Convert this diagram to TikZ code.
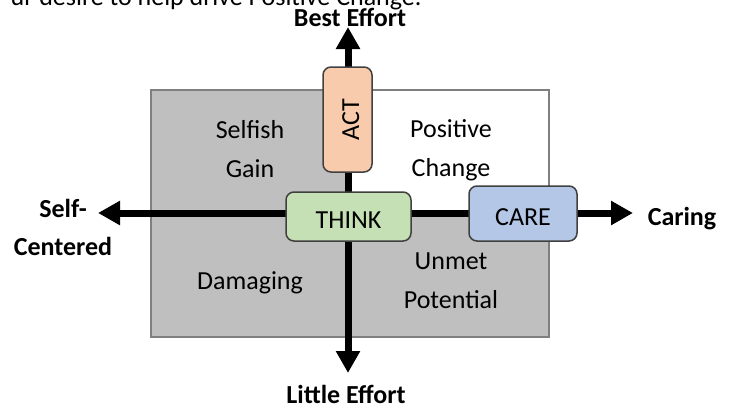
\documentclass[tikz,border=0pt]{standalone}
\usepackage{fontspec}
\setmainfont{Carlito}
\usetikzlibrary{arrows.meta, positioning, calc}
\definecolor{actfill}{HTML}{F8CBAD}
\definecolor{thinkfill}{HTML}{C5E0B4}
\definecolor{carefill}{HTML}{B4C7E7}
\definecolor{quadgray}{HTML}{BFBFBF}
\definecolor{quadline}{HTML}{7F7F7F}
\definecolor{boxline}{HTML}{404040}

\begin{document}
\begin{tikzpicture}[x=1pt, y=-1pt,
    every node/.style={font=\fontsize{26}{39}\selectfont},
    tag/.style={rectangle, draw=boxline, line width=1.5pt, rounded corners=8pt, text height=23pt, text depth=0pt, inner sep=0pt},
    axis/.style={line width=7pt, {Triangle[length=22pt, width=23pt]}-{Triangle[length=22pt, width=23pt]}},
    quad/.style={align=center},
    pole/.style={font=\fontsize{26}{38}\selectfont\bfseries, align=center}
]
\useasboundingbox (0,0) rectangle (734,407);

% Quadrant frame
\coordinate (nw) at (151,90);
\coordinate (se) at (549,337);
\coordinate (origin) at (348,213);
\fill[quadgray] (nw) rectangle (se);
\fill[white] (origin |- nw) rectangle (se |- origin); % only the upper right stays white
\draw[quadline, line width=2pt] (nw) rectangle (se);

% Axes
\coordinate (top) at (348,27);
\coordinate (bottom) at (348,373);
\coordinate (left) at (98,213);
\coordinate (right) at (633,213);
\draw[axis] (left) -- (right);
\draw[axis] (bottom) -- (top);

% Boxes on the axes
\node[tag, fill=actfill, rotate=90, minimum width=105pt, minimum height=49pt] (act) at (347.5,119.5) {ACT};
\node[tag, fill=thinkfill, minimum width=125pt, minimum height=49pt] (think) at (348.5,216.5) {THINK};
\node[tag, fill=carefill, minimum width=108pt, minimum height=55pt] (care) at (523,213.5) {CARE};

% Quadrant labels
\node[quad] (selfish) at (250,149) {Selfish\\Gain};
\node[quad] (positive) at (451,150) {Positive\\Change};
\node[anchor=base] (damaging) at (250,289) {Damaging};
\node[quad] (unmet) at (451,280.5) {Unmet\\Potential};

% Axis labels
\node[pole, anchor=base] (best) at (350,26) {Best Effort};
\node[pole, anchor=base] (little) at (346,403) {Little Effort};
\node[pole] (selfcentered) at (63,227) {Self-\\Centered};
\node[pole, anchor=base] (caring) at (682,225) {Caring};

% Cut-off line above
\node[anchor=base east] (motto) at (425,5) {ur desire to help drive Positive Change.};

\end{tikzpicture}
\end{document}
